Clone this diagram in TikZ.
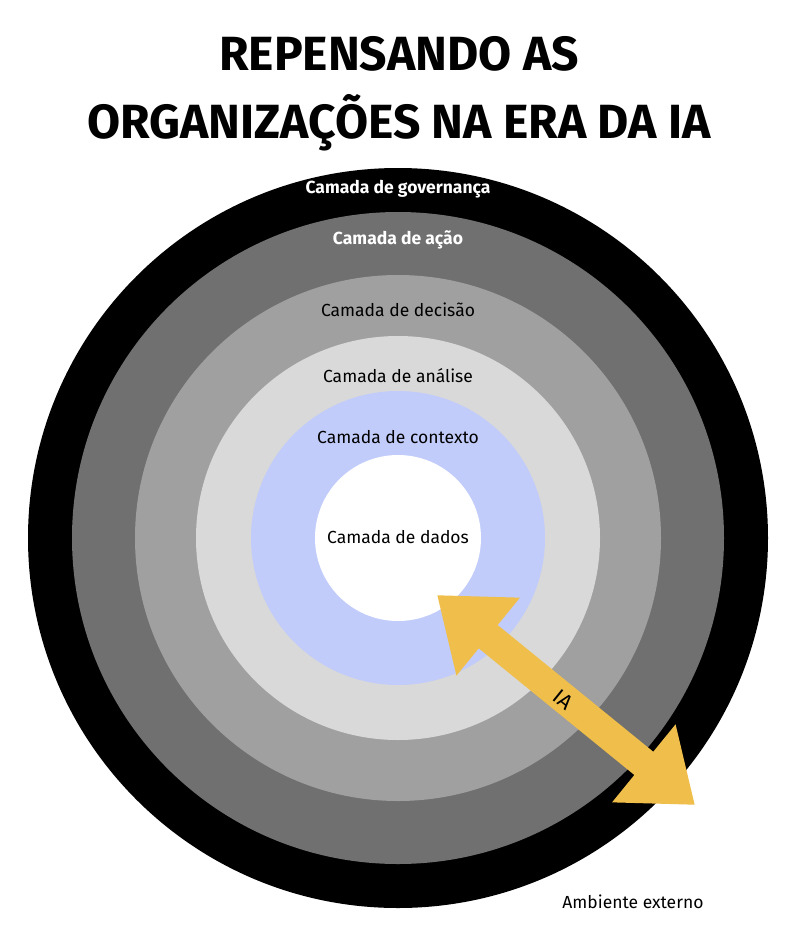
\documentclass[tikz,border=0pt]{standalone}
\usepackage{fontspec}
\setmainfont{Fira Sans}
\usetikzlibrary{arrows.meta}
\definecolor{dgray}{HTML}{707070}
\definecolor{mgray}{HTML}{A0A0A0}
\definecolor{lgray}{HTML}{D9D9D9}
\definecolor{lblue}{HTML}{C1CCFA}
\definecolor{gold}{HTML}{F0BE4A}
\tikzset{ring/.style={circle,inner sep=0pt,draw=none},
lbl/.style={font=\fontsize{17.5}{20}\selectfont},
wlbl/.style={font=\bfseries\fontsize{17.5}{20}\selectfont,text=white}}
\begin{document}
\begin{tikzpicture}[x=1pt,y=-1pt]
\useasboundingbox (0,0) rectangle (798,940);
\fill[white] (0,0) rectangle (798,940);
\node[font=\bfseries\fontsize{48}{68}\selectfont,align=center] (title) at (399,94) {REPENSANDO AS\\ORGANIZAÇÕES NA ERA DA IA};
\node[ring,fill=black,minimum size=740pt] (gov) at (398,538) {};
\node[ring,fill=dgray,minimum size=652pt] (acao) at (398,538) {};
\node[ring,fill=mgray,minimum size=526pt] (dec) at (398,538) {};
\node[ring,fill=lgray,minimum size=404pt] (ana) at (398,538) {};
\node[ring,fill=lblue,minimum size=294pt] (ctx) at (398,538) {};
\node[ring,fill=white,minimum size=166pt] (dad) at (398,538) {};
\node[wlbl] (tgov) at (398,189) {Camada de governança};
\node[wlbl] (tacao) at (398,240) {Camada de ação};
\node[lbl] (tdec) at (398,310) {Camada de decisão};
\node[lbl] (tana) at (398,376) {Camada de análise};
\node[lbl] (tctx) at (398,437) {Camada de contexto};
\node[lbl] (tdad) at (398,537) {Camada de dados};
\node[lbl,anchor=east] (amb) at (707,902) {Ambiente externo};
\coordinate (a1) at (437,595);
\coordinate (a2) at (695,805);
\draw[gold,line width=30pt,{Triangle[length=66pt,width=96pt]}-{Triangle[length=66pt,width=96pt]}] (a1) -- (a2);
\node[font=\fontsize{21}{24}\selectfont,rotate=-39] (ia) at (563,700) {IA};
\end{tikzpicture}
\end{document}
